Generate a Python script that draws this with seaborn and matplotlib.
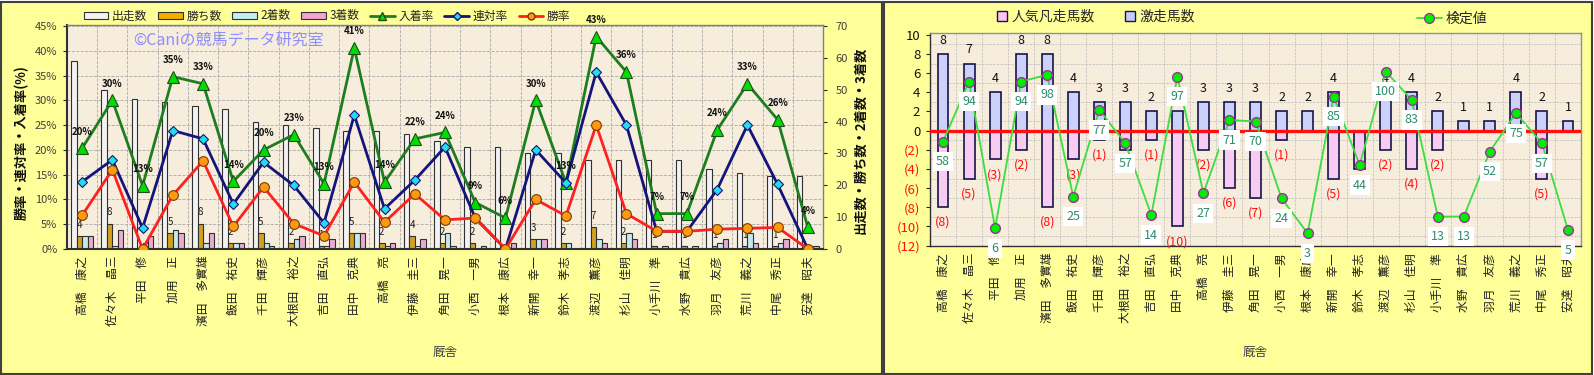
import numpy as np
import pandas as pd
import matplotlib
matplotlib.use('Agg')
import matplotlib.pyplot as plt
import seaborn as sns
from matplotlib.patches import Rectangle, Patch
from matplotlib.lines import Line2D

sns.set_style('white')
plt.rcParams['font.family'] = ['Noto Sans CJK JP', 'DejaVu Sans']

# ---------------- data ----------------
trainers = ['高橋　康之', '佐々木　晶三', '平田　修', '加用　正', '濱田　多實雄', '飯田　祐史',
            '千田　輝彦', '大根田　裕之', '吉田　直弘', '田中　克典', '高橋　亮', '伊藤　圭三',
            '角田　晃一', '小西　一男', '根本　康広', '新開　幸一', '鈴木　孝志', '渡辺　薫彦',
            '杉山　佳明', '小手川　準', '水野　貴広', '羽月　友彦', '荒川　義之', '中尾　秀正',
            '安達　昭夫']
starts  = [59, 50, 47, 46, 45, 44, 40, 39, 38, 37, 37, 36, 34, 32, 32, 30, 30, 28, 28, 28, 28, 25, 24, 23, 23]
wins    = [4, 8, 0, 5, 8, 2, 5, 2, 1, 5, 2, 4, 2, 2, 0, 3, 2, 7, 2, 1, 1, 1, 1, 1, 0]
seconds = [4, 1, 2, 6, 2, 2, 2, 3, 1, 5, 1, 1, 5, 0, 0, 3, 2, 3, 5, 0, 0, 2, 5, 2, 0]
thirds  = [4, 6, 4, 5, 5, 2, 1, 4, 3, 5, 2, 3, 1, 1, 2, 3, 0, 2, 3, 1, 1, 3, 2, 3, 1]
win_rate    = [6.78, 16.0, 0.0, 10.87, 17.78, 4.55, 12.5, 5.13, 2.63, 13.51, 5.41, 11.11, 5.88,
               6.25, 0.0, 10.0, 6.67, 25.0, 7.14, 3.57, 3.57, 4.0, 4.17, 4.35, 0.0]
rentai_rate = [13.56, 18.0, 4.26, 23.91, 22.22, 9.09, 17.5, 12.82, 5.26, 27.03, 8.11, 13.89, 20.59,
               6.25, 0.0, 20.0, 13.33, 35.71, 25.0, 3.57, 3.57, 12.0, 25.0, 13.04, 0.0]
place_rate  = [20.34, 30.0, 12.77, 34.78, 33.33, 13.64, 20.0, 23.08, 13.16, 40.54, 13.51, 22.22, 23.53,
               9.38, 6.25, 30.0, 13.33, 42.86, 35.71, 7.14, 7.14, 24.0, 33.33, 26.09, 4.35]
place_labels = ['20%', '30%', '13%', '35%', '33%', '14%', '20%', '23%', '13%', '41%', '14%', '22%', '24%',
                '9%', '6%', '30%', '13%', '43%', '36%', '7%', '7%', '24%', '33%', '26%', '4%']

upset_count = [8, 7, 4, 8, 8, 4, 3, 3, 2, 2, 3, 3, 3, 2, 2, 4, 0, 4, 4, 2, 1, 1, 4, 2, 1]
flop_count  = [8, 5, 3, 2, 8, 3, 1, 2, 1, 10, 2, 6, 7, 1, 0, 5, 4, 2, 4, 2, 0, 0, 0, 5, 0]
test_value  = [58, 94, 6, 94, 98, 25, 77, 57, 14, 97, 27, 71, 70, 24, 3, 85, 44, 100, 83, 13, 13, 52, 75, 57, 5]

bar_series = ['出走数', '勝ち数', '2着数', '3着数']
bar_colors = ['#F2F2F2', '#F0B000', '#BDEFF5', '#F2A2D4']

# ---------------- figure ----------------
W, H = 1594, 375
fig = plt.figure(figsize=(W / 100, H / 100), dpi=100, facecolor='white')
YELLOW = '#FFFF99'
PARCH = '#F6EDDD'
fig.patches.append(Rectangle((1 / W, 1 / H), 881 / W, 372 / H, transform=fig.transFigure,
                             fc=YELLOW, ec='#404040', lw=1.5, zorder=-10))
fig.patches.append(Rectangle((884 / W, 1 / H), 708 / W, 372 / H, transform=fig.transFigure,
                             fc=YELLOW, ec='#404040', lw=1.5, zorder=-10))

n = len(trainers)
xpos = np.arange(n)

# ================= left chart =================
ax = fig.add_axes([67 / W, (H - 249) / H, (823 - 67) / W, (249 - 25) / H])
ax.set_facecolor(PARCH)
df = pd.DataFrame({
    '厩舎': trainers * 4,
    'series': [s for s in bar_series for _ in trainers],
    'value': starts + wins + seconds + thirds,
})
sns.barplot(data=df, x='厩舎', y='value', hue='series', hue_order=bar_series, palette=bar_colors,
            width=0.72, edgecolor='#303030', linewidth=0.8, ax=ax, legend=False, zorder=2)
ax.set_ylim(0, 70.3)
ax.set_xlim(-0.5, n - 0.5)
ax.set_xticks(xpos)
ax.set_xticklabels(trainers, rotation=90, fontsize=8.5, color='#202020')
ax.tick_params(axis='x', which='major', length=0, pad=5)
ax.set_xlabel('')
ax.set_ylabel('')
ax.set_xticks(np.arange(-0.5, n, 1), minor=True)
ax.set_yticks(np.arange(0, 46, 5) * 70.3 / 45.2, minor=True)
ax.tick_params(which='minor', length=0)
ax.grid(False)
ax.grid(which='minor', ls='--', color='#A9A9A9', lw=0.6, zorder=0)
ax.set_axisbelow(True)
for s in ['top', 'right']:
    ax.spines[s].set_color('#808080')
    ax.spines[s].set_linewidth(1)
for s in ['left', 'bottom']:
    ax.spines[s].set_color('#303030')
    ax.spines[s].set_linewidth(1.5)

# win-count labels above yellow bars
for p, w in zip(ax.containers[1], wins):
    if w > 0:
        ax.annotate(str(w), (p.get_x() + p.get_width() / 2, p.get_height()), xytext=(0, 8),
                    textcoords='offset points', ha='center', va='center', fontsize=7, color='#202020')

ax2 = ax.twinx()
ax2.patch.set_visible(False)
sns.lineplot(x=xpos, y=place_rate, ax=ax2, color='#1E7D1E', lw=2, marker='^', markersize=9,
             markerfacecolor='#00DD00', markeredgecolor='#1E4D1E', markeredgewidth=0.8)
sns.lineplot(x=xpos, y=rentai_rate, ax=ax2, color='#14147A', lw=2, marker='D', markersize=5.5,
             markerfacecolor='#22DDEE', markeredgecolor='#14147A', markeredgewidth=0.8)
sns.lineplot(x=xpos, y=win_rate, ax=ax2, color='#FF2020', lw=2, marker='o', markersize=7,
             markerfacecolor='#FF9A10', markeredgecolor='#7A3A00', markeredgewidth=0.8)
ax2.set_ylim(0, 45.2)
ax2.set_xlim(-0.5, n - 0.5)
ax2.set_yticks(np.arange(0, 46, 5))
ax2.set_yticklabels([f'{v}%' for v in range(0, 46, 5)])
ax2.set_ylabel('')
for s in ax2.spines.values():
    s.set_visible(False)
for i, (v, lab) in enumerate(zip(place_rate, place_labels)):
    ax2.annotate(lab, (i, v), xytext=(0, 12), textcoords='offset points', ha='center', va='center',
                 fontsize=7, fontweight='bold', color='#111111')

# axis sides: percent on left (ax2), counts on right (ax)
ax2.yaxis.set_ticks_position('left')
ax2.tick_params(axis='y', labelsize=8, labelcolor='#404040', length=3, direction='out',
                left=True, right=False, labelleft=True, labelright=False, pad=4)
ax.set_yticks(np.arange(0, 71, 10))
ax.yaxis.set_ticks_position('right')
ax.tick_params(axis='y', which='major', labelsize=8, labelcolor='#404040', length=3, direction='out',
               right=True, left=False, labelright=True, labelleft=False, pad=6)

fig.text(22 / W, 1 - 143 / H, '勝率・連対率・入着率(%)', rotation=90, ha='center', va='center',
         fontsize=9.5, fontweight='bold', color='#111111')
fig.text(860 / W, 1 - 140 / H, '出走数・勝ち数・2着数・3着数', rotation=90, ha='center', va='center',
         fontsize=9.5, fontweight='bold', color='#111111')
fig.text(445 / W, 1 - 352 / H, '厩舎', ha='center', va='center', fontsize=9, color='#404040')
fig.text(133 / W, 1 - 40 / H, '©Caniの競馬データ研究室', ha='left', va='center', fontsize=11.5,
         color='#8E8EFF')

left_handles = [Patch(fc=c, ec='#303030', lw=0.8) for c in bar_colors] + [
    Line2D([], [], color='#1E7D1E', lw=2, marker='^', markersize=6, markerfacecolor='#00DD00',
           markeredgecolor='#1E4D1E'),
    Line2D([], [], color='#14147A', lw=2, marker='D', markersize=4, markerfacecolor='#22DDEE',
           markeredgecolor='#14147A'),
    Line2D([], [], color='#FF2020', lw=2, marker='o', markersize=5, markerfacecolor='#FF9A10',
           markeredgecolor='#7A3A00'),
]
fig.legend(left_handles, bar_series + ['入着率', '連対率', '勝率'], loc='center',
           bbox_to_anchor=(327 / W, 1 - 16 / H), ncol=7, frameon=False, fontsize=8.5,
           handlelength=2.1, handleheight=0.6, handletextpad=0.3, columnspacing=0.9)

# ================= right chart =================
rax = fig.add_axes([930 / W, (H - 246) / H, 651 / W, 213 / H])
rax.set_facecolor(PARCH)
sns.barplot(x=trainers, y=upset_count, color='#C4CCFF', width=0.42, edgecolor='#15154A',
            linewidth=1.2, ax=rax, zorder=2)
sns.barplot(x=trainers, y=[-f for f in flop_count], color='#FFC4F6', width=0.42, edgecolor='#15154A',
            linewidth=1.2, ax=rax, zorder=2)
rax.axhline(0, color='#FF1010', lw=2.4, zorder=3)
rax.set_ylim(-12.05, 10.2)
rax.set_xlim(-0.5, n - 0.5)
yt = np.arange(-12, 11, 2)
rax.set_yticks(yt)
rax.set_yticklabels([f'({-v})' if v < 0 else str(v) for v in yt])
for t, v in zip(rax.get_yticklabels(), yt):
    t.set_color('#FF1010' if v < 0 else '#111111')
rax.set_xticks(xpos)
rax.set_xticklabels(trainers, rotation=90, fontsize=8.5, color='#202020')
rax.tick_params(axis='x', length=0, pad=5)
rax.set_xticks(np.arange(-0.5, n, 1), minor=True)
rax.set_yticks(np.arange(-12, 11, 1), minor=True)
rax.tick_params(which='minor', length=0)
rax.grid(False)
rax.grid(which='minor', ls='--', color='#BDBDBD', lw=0.5, zorder=0)
rax.set_axisbelow(True)
rax.set_xlabel('')
rax.set_ylabel('')
for s in rax.spines.values():
    s.set_color('#909090')
    s.set_linewidth(1)
rax.spines['left'].set_color('#303030')
rax.spines['bottom'].set_color('#303030')

for i, (u, f) in enumerate(zip(upset_count, flop_count)):
    if u > 0:
        rax.annotate(str(u), (i, u), xytext=(0, 10), textcoords='offset points', ha='center',
                     va='center', fontsize=9, color='#111111')
    if f > 0:
        rax.annotate(f'({f})', (i, -f), xytext=(0, -11), textcoords='offset points', ha='center',
                     va='center', fontsize=9, color='#FF1010')

rax2 = rax.twinx()
rax2.patch.set_visible(False)
sns.lineplot(x=xpos, y=test_value, ax=rax2, color='#3EDC3E', lw=1.3, marker='o', markersize=7,
             markerfacecolor='#00EE00', markeredgecolor='#993399', markeredgewidth=1)
rax2.set_ylim(-4.65, 123.1)
rax2.set_xlim(-0.5, n - 0.5)
rax2.set_yticks([])
rax2.set_ylabel('')
for s in rax2.spines.values():
    s.set_visible(False)
for i, v in enumerate(test_value):
    rax2.annotate(str(v), (i, v), xytext=(0, -14.5), textcoords='offset points', ha='center',
                  va='center', fontsize=9, color='#2E8B6E',
                  bbox=dict(boxstyle='square,pad=0.25', fc='white', ec='none'))

rax.yaxis.set_ticks_position('left')
rax.tick_params(axis='y', labelsize=9.5, length=3, direction='out', left=True, right=False,
                labelleft=True, labelright=False, pad=4)

fig.text(1255 / W, 1 - 352 / H, '厩舎', ha='center', va='center', fontsize=9, color='#404040')

fig.legend([Patch(fc='#FFC4F6', ec='#15154A', lw=1), Patch(fc='#C4CCFF', ec='#15154A', lw=1)],
           ['人気凡走馬数', '激走馬数'], loc='center', bbox_to_anchor=(1096 / W, 1 - 17 / H), ncol=2,
           frameon=False, fontsize=10, handlelength=0.7, handleheight=0.7, handletextpad=0.3,
           columnspacing=2.2)
fig.legend([Line2D([], [], color='#3EDC3E', lw=1.3, marker='o', markersize=7, markerfacecolor='#00EE00',
                   markeredgecolor='#993399')],
           ['検定値'], loc='center', bbox_to_anchor=(1452 / W, 1 - 19 / H), frameon=False, fontsize=10,
           handlelength=1.8, handletextpad=0.3)

fig.savefig('out.png', dpi=100, facecolor='white')
